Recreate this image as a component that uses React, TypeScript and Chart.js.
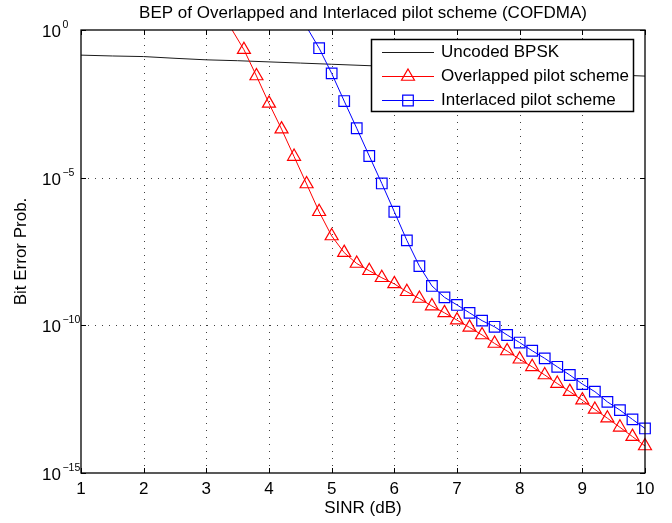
import React, { useEffect, useRef } from "react";
import { Chart, registerables } from "chart.js";

Chart.register(...registerables);

// ---- data ----
const chartTitle = "BEP of Overlapped and Interlaced pilot scheme (COFDMA)";
const xAxisTitle = "SINR (dB)";
const yAxisTitle = "Bit Error Prob.";
const legendLabels = ["Uncoded BPSK", "Overlapped pilot scheme", "Interlaced pilot scheme"];

const xTicks = [1, 2, 3, 4, 5, 6, 7, 8, 9, 10];
const yTickValues = [1, 1e-5, 1e-10, 1e-15];
const yTickExponents = ["0", "\u22125", "\u221210", "\u221215"];

const bpskSinr = [1, 1.5, 2, 2.5, 3, 3.5, 4, 4.5, 5, 5.5, 6, 6.5, 7, 7.5, 8, 8.5, 9, 9.5, 10];
const bpskBer = [
  0.141, 0.132, 0.126, 0.11, 0.0977, 0.0912, 0.0832, 0.0759, 0.0692, 0.0631,
  0.0575, 0.0525, 0.0479, 0.0437, 0.0398, 0.0363, 0.0331, 0.0302, 0.0275,
];

const overlappedSinr = [
  3.4, 3.6, 3.8, 4.0, 4.2, 4.4, 4.6, 4.8, 5.0, 5.2, 5.4, 5.6, 5.8, 6.0, 6.2, 6.4, 6.6,
  6.8, 7.0, 7.2, 7.4, 7.6, 7.8, 8.0, 8.2, 8.4, 8.6, 8.8, 9.0, 9.2, 9.4, 9.6, 9.8, 10.0,
];
const overlappedBer = [
  1.1, 2.15e-1, 2.77e-2, 3.27e-3, 4.41e-4, 5.18e-5, 6.1e-6, 7.0e-7, 1.06e-7, 2.89e-8,
  1.24e-8, 7.05e-9, 4.08e-9, 2.53e-9, 1.37e-9, 8.11e-10, 4.49e-10, 2.65e-10, 1.5e-10,
  8.51e-11, 4.71e-11, 2.43e-11, 1.35e-11, 7.11e-12, 3.94e-12, 2.08e-12, 1.07e-12,
  5.68e-13, 2.93e-13, 1.42e-13, 7.16e-14, 3.53e-14, 1.71e-14, 8.22e-15,
];

const interlacedSinr = [
  4.6, 4.8, 5.0, 5.2, 5.4, 5.6, 5.8, 6.0, 6.2, 6.4, 6.6, 6.8, 7.0, 7.2, 7.4, 7.6, 7.8,
  8.0, 8.2, 8.4, 8.6, 8.8, 9.0, 9.2, 9.4, 9.6, 9.8, 10.0,
];
const interlacedBer = [
  1.27, 2.42e-1, 3.4e-2, 3.92e-3, 4.71e-4, 5.42e-5, 6.37e-6, 7.0e-7, 7.52e-8, 1.01e-8,
  2.16e-9, 8.87e-10, 4.91e-10, 2.65e-10, 1.44e-10, 8.91e-11, 4.71e-11, 2.61e-11,
  1.38e-11, 7.62e-12, 3.94e-12, 2.08e-12, 1.03e-12, 5.68e-13, 2.56e-13, 1.35e-13,
  6.53e-14, 3.23e-14,
];

// ---- style ----
const FONT = '"Liberation Sans", Arial, Helvetica, sans-serif';
const RED = "#ff0000";
const BLUE = "#0000ff";
const BLACK = "#1a1a1a";
const MARKER_R = 7.5;

function drawTriangle(ctx: CanvasRenderingContext2D, x: number, y: number, r: number) {
  ctx.beginPath();
  let rad = 0;
  ctx.moveTo(x + Math.sin(rad) * r, y - Math.cos(rad) * r);
  rad += (2 * Math.PI) / 3;
  ctx.lineTo(x + Math.sin(rad) * r, y - Math.cos(rad) * r);
  rad += (2 * Math.PI) / 3;
  ctx.lineTo(x + Math.sin(rad) * r, y - Math.cos(rad) * r);
  ctx.closePath();
  ctx.stroke();
}
function drawSquare(ctx: CanvasRenderingContext2D, x: number, y: number, r: number) {
  const s = Math.SQRT1_2 * r;
  ctx.beginPath();
  ctx.rect(x - s, y - s, 2 * s, 2 * s);
  ctx.stroke();
}

const matlabPlugin = {
  id: "matlabLook",
  beforeDatasetsDraw(chart: any) {
    const { ctx, chartArea: a, scales } = chart;
    const xs = scales.x;
    const ys = scales.y;
    ctx.save();
    ctx.strokeStyle = "rgba(0,0,0,0.75)";
    ctx.lineWidth = 1;
    ctx.setLineDash([1, 6]);
    for (const t of xTicks) {
      if (t === xs.min || t === xs.max) continue;
      const px = Math.round(xs.getPixelForValue(t)) + 0.5;
      ctx.beginPath();
      ctx.moveTo(px, a.bottom);
      ctx.lineTo(px, a.top);
      ctx.stroke();
    }
    for (const v of yTickValues) {
      if (v === ys.min || v === ys.max) continue;
      const py = Math.round(ys.getPixelForValue(v)) + 0.5;
      ctx.beginPath();
      ctx.moveTo(a.left, py);
      ctx.lineTo(a.right, py);
      ctx.stroke();
    }
    ctx.restore();
  },
  afterDatasetsDraw(chart: any) {
    const { ctx, chartArea: a, scales } = chart;
    const xs = scales.x;
    const ys = scales.y;
    ctx.save();
    // axes box
    ctx.setLineDash([]);
    ctx.strokeStyle = "#000";
    ctx.lineWidth = 1.3;
    ctx.strokeRect(a.left, a.top, a.right - a.left, a.bottom - a.top);
    // inward ticks
    ctx.lineWidth = 1;
    const tl = 5;
    for (const t of xTicks) {
      const px = Math.round(xs.getPixelForValue(t)) + 0.5;
      ctx.beginPath();
      ctx.moveTo(px, a.bottom);
      ctx.lineTo(px, a.bottom - tl);
      ctx.moveTo(px, a.top);
      ctx.lineTo(px, a.top + tl);
      ctx.stroke();
    }
    for (const v of yTickValues) {
      const py = Math.round(ys.getPixelForValue(v)) + 0.5;
      ctx.beginPath();
      ctx.moveTo(a.left, py);
      ctx.lineTo(a.left + tl, py);
      ctx.moveTo(a.right, py);
      ctx.lineTo(a.right - tl, py);
      ctx.stroke();
    }
    // tick labels
    ctx.fillStyle = "#000";
    ctx.font = `17px ${FONT}`;
    ctx.textAlign = "center";
    ctx.textBaseline = "middle";
    for (const t of xTicks) {
      ctx.fillText(String(t), xs.getPixelForValue(t), a.bottom + 16);
    }
    yTickValues.forEach((v, i) => {
      const py = ys.getPixelForValue(v);
      ctx.font = `17px ${FONT}`;
      ctx.textAlign = "left";
      ctx.textBaseline = "alphabetic";
      const bx = 42;
      ctx.fillText("10", bx, py + 7);
      const w = ctx.measureText("10").width;
      ctx.font = `10.5px ${FONT}`;
      ctx.fillText(yTickExponents[i], bx + w + 1.5, py - 2);
    });
    // titles
    ctx.font = `17px ${FONT}`;
    ctx.textAlign = "center";
    ctx.textBaseline = "middle";
    ctx.fillText(chartTitle, (a.left + a.right) / 2, 13);
    ctx.fillText(xAxisTitle, (a.left + a.right) / 2, 508);
    ctx.save();
    ctx.translate(21.5, (a.top + a.bottom) / 2);
    ctx.rotate(-Math.PI / 2);
    ctx.fillText(yAxisTitle, 0, 0);
    ctx.restore();

    // legend
    const lx = 371.5, ly = 39.5, lw = 262, lh = 72;
    ctx.fillStyle = "#fff";
    ctx.fillRect(lx, ly, lw, lh);
    ctx.strokeStyle = "#000";
    ctx.lineWidth = 1.5;
    ctx.strokeRect(lx, ly, lw, lh);
    const rows = [52.5, 76.5, 100.5];
    const colors = [BLACK, RED, BLUE];
    rows.forEach((ry, i) => {
      ctx.strokeStyle = colors[i];
      ctx.lineWidth = 1;
      ctx.beginPath();
      ctx.moveTo(382, ry);
      ctx.lineTo(434, ry);
      ctx.stroke();
      ctx.lineWidth = 1.2;
      if (i === 1) drawTriangle(ctx, 408, ry, MARKER_R);
      if (i === 2) drawSquare(ctx, 408, ry, MARKER_R);
      ctx.fillStyle = "#000";
      ctx.font = `17px ${FONT}`;
      ctx.textAlign = "left";
      ctx.textBaseline = "middle";
      ctx.fillText(legendLabels[i], 441, ry);
    });
    ctx.restore();
  },
};

export default function App() {
  const ref = useRef<HTMLCanvasElement | null>(null);
  useEffect(() => {
    document.body.style.margin = "0";
    const canvas = ref.current;
    if (!canvas) return;
    const clip = { left: 10, top: 0, right: 10, bottom: 10 };
    const chart = new Chart(canvas, {
      type: "line",
      data: {
        datasets: [
          {
            label: legendLabels[2],
            data: interlacedSinr.map((x, i) => ({ x, y: interlacedBer[i] })),
            borderColor: BLUE,
            borderWidth: 1,
            pointStyle: "rect",
            pointRadius: interlacedBer.map((v) => (v > 1 ? 0 : MARKER_R)),
            pointBorderColor: BLUE,
            pointBackgroundColor: "rgba(0,0,0,0)",
            pointBorderWidth: 1.2,
            tension: 0,
            clip,
            order: 0,
          } as any,
          {
            label: legendLabels[1],
            data: overlappedSinr.map((x, i) => ({ x, y: overlappedBer[i] })),
            borderColor: RED,
            borderWidth: 1,
            pointStyle: "triangle",
            pointRadius: overlappedBer.map((v) => (v > 1 ? 0 : MARKER_R)),
            pointBorderColor: RED,
            pointBackgroundColor: "rgba(0,0,0,0)",
            pointBorderWidth: 1.2,
            tension: 0,
            clip,
            order: 1,
          } as any,
          {
            label: legendLabels[0],
            data: bpskSinr.map((x, i) => ({ x, y: bpskBer[i] })),
            borderColor: BLACK,
            borderWidth: 1,
            pointRadius: 0,
            tension: 0,
            clip,
            order: 2,
          } as any,
        ],
      },
      options: {
        responsive: false,
        animation: false,
        events: [],
        devicePixelRatio: 1,
        layout: { padding: { left: 81, right: 27, top: 30, bottom: 50 } },
        plugins: {
          legend: { display: false },
          title: { display: false },
          tooltip: { enabled: false },
        },
        scales: {
          x: {
            type: "linear",
            min: 1,
            max: 10,
            ticks: { display: false },
            grid: { display: false },
            border: { display: false },
            afterFit: (s: any) => {
              s.height = 0;
            },
          },
          y: {
            type: "logarithmic",
            min: 1e-15,
            max: 1,
            ticks: { display: false },
            grid: { display: false },
            border: { display: false },
            afterFit: (s: any) => {
              s.width = 0;
            },
          },
        },
      } as any,
      plugins: [matlabPlugin],
    });
    return () => chart.destroy();
  }, []);
  return (
    <div style={{ position: "absolute", left: 0, top: 0, width: 672, height: 523, background: "#fff" }}>
      <canvas ref={ref} width={672} height={523} style={{ display: "block" }} />
    </div>
  );
}
